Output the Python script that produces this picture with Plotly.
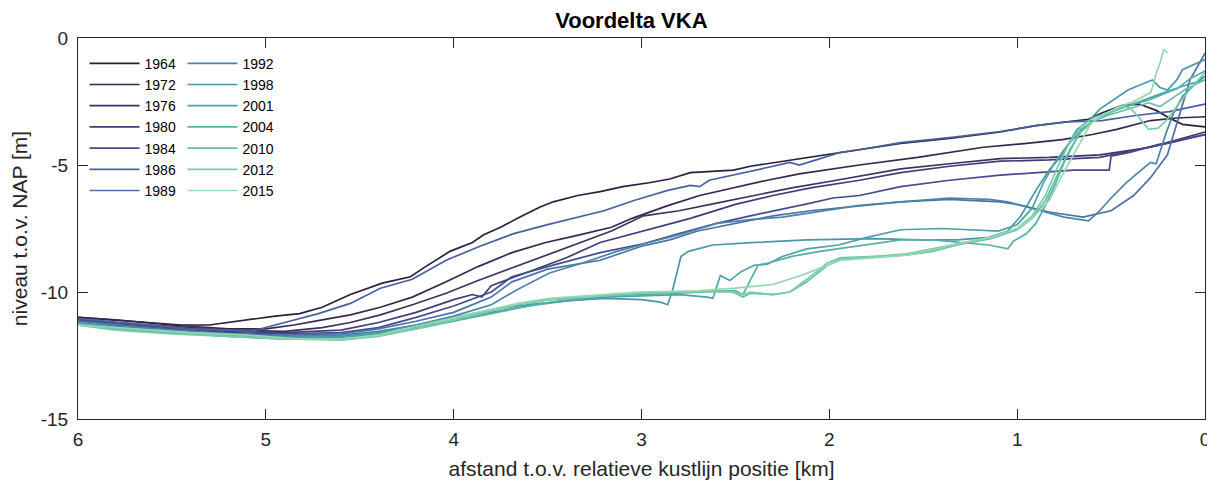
import plotly.graph_objects as go

# ---- data (x: km from relative coastline position, y: level w.r.t. NAP in m) ----
YEARS = ["1964", "1972", "1976", "1980", "1984", "1986", "1989",
         "1992", "1998", "2001", "2004", "2010", "2012", "2015"]

P1964 = [(6.0,-11.0),(5.9,-11.05),(5.75,-11.15),(5.6,-11.2),(5.45,-11.3),(5.3,-11.3),(5.2,-11.2),
         (5.05,-11.05),(4.95,-10.95),(4.82,-10.85),(4.7,-10.6),(4.55,-10.1),(4.45,-9.85),(4.38,-9.65),
         (4.23,-9.4),(4.16,-9.05),(4.02,-8.4),(3.9,-8.05),(3.84,-7.75),(3.75,-7.45),(3.66,-7.1),
         (3.54,-6.65),(3.47,-6.45),(3.34,-6.2),(3.22,-6.05),(3.1,-5.85),(2.96,-5.7),(2.85,-5.55),
         (2.74,-5.3),(2.6,-5.25),(2.51,-5.2),(2.42,-5.05),(2.33,-4.95),(2.16,-4.75),(1.98,-4.55),
         (1.84,-4.4),(1.62,-4.15),(1.36,-3.95),(1.09,-3.7),(0.9,-3.45),(0.74,-3.3),(0.62,-3.2),
         (0.55,-2.95),(0.44,-2.65),(0.35,-2.6),(0.26,-2.85),(0.19,-3.15),(0.12,-3.4),(0.0,-3.5)]

P1972 = [(6.0,-11.0),(5.8,-11.1),(5.5,-11.3),(5.2,-11.45),(5.0,-11.45),(4.85,-11.3),(4.7,-11.1),
         (4.55,-10.9),(4.39,-10.6),(4.22,-10.2),(4.04,-9.6),(3.87,-9.0),(3.69,-8.45),(3.51,-8.05),
         (3.33,-7.75),(3.16,-7.45),(3.05,-7.1),(2.86,-6.6),(2.69,-6.2),(2.51,-5.9),(2.33,-5.6),
         (2.16,-5.35),(1.98,-5.15),(1.84,-5.0),(1.53,-4.7),(1.18,-4.3),(0.95,-4.15),(0.76,-4.0),
         (0.6,-3.8),(0.47,-3.6),(0.29,-3.25),(0.15,-3.15),(0.0,-3.1)]

P1976 = [(6.0,-11.05),(5.8,-11.2),(5.5,-11.35),(5.2,-11.5),(4.9,-11.55),(4.7,-11.4),(4.55,-11.2),
         (4.39,-10.9),(4.22,-10.5),(4.04,-10.05),(3.87,-9.55),(3.69,-9.05),(3.51,-8.55),(3.33,-8.05),
         (3.16,-7.6),(2.99,-7.0),(2.8,-6.8),(2.6,-6.5),(2.4,-6.2),(2.2,-5.9),(2.0,-5.65),(1.84,-5.45),
         (1.62,-5.15),(1.36,-4.95),(1.09,-4.75),(0.83,-4.7),(0.56,-4.6),(0.47,-4.5),(0.29,-4.3),(0.0,-3.7)]

P1980 = [(6.0,-11.1),(5.8,-11.25),(5.5,-11.4),(5.2,-11.55),(4.9,-11.6),(4.6,-11.5),(4.4,-11.2),
         (4.2,-10.8),(4.0,-10.3),(3.9,-10.1),(3.85,-10.2),(3.8,-9.75),(3.6,-9.2),(3.4,-8.65),
         (3.22,-8.05),(2.99,-7.6),(2.85,-7.3),(2.74,-7.1),(2.5,-6.55),(2.3,-6.2),(2.1,-5.9),
         (1.84,-5.6),(1.62,-5.3),(1.36,-5.05),(1.09,-4.85),(0.83,-4.8),(0.56,-4.7),(0.4,-4.45),
         (0.2,-4.15),(0.0,-3.8)]

P1984 = [(6.0,-11.1),(5.8,-11.3),(5.5,-11.45),(5.2,-11.6),(4.9,-11.65),(4.6,-11.6),(4.4,-11.4),
         (4.2,-11.0),(4.0,-10.55),(3.8,-10.0),(3.69,-9.4),(3.5,-9.0),(3.22,-8.45),(2.99,-8.1),
         (2.8,-7.7),(2.6,-7.3),(2.42,-7.0),(2.25,-6.75),(2.1,-6.5),(1.98,-6.3),(1.84,-6.2),
         (1.62,-5.85),(1.36,-5.6),(1.09,-5.4),(0.83,-5.25),(0.7,-5.2),(0.51,-5.2),(0.5,-4.65),
         (0.4,-4.5),(0.25,-4.2),(0.0,-3.8)]

P1986 = [(6.0,-11.05),(5.85,-11.15),(5.6,-11.3),(5.4,-11.45),(5.2,-11.5),(5.08,-11.55),(4.9,-11.2),
         (4.72,-10.85),(4.55,-10.45),(4.39,-9.85),(4.22,-9.5),(4.04,-8.75),(3.86,-8.2),(3.68,-7.7),
         (3.5,-7.35),(3.33,-7.05),(3.2,-6.8),(3.04,-6.4),(2.86,-6.0),(2.74,-5.8),(2.69,-5.85),
         (2.64,-5.6),(2.51,-5.4),(2.33,-5.1),(2.21,-4.9),(2.16,-5.0),(2.07,-4.8),(1.94,-4.5),
         (1.84,-4.4),(1.62,-4.12),(1.36,-3.92),(1.09,-3.68),(0.9,-3.45),(0.74,-3.3),(0.55,-3.25),
         (0.37,-3.05),(0.19,-2.9),(0.0,-2.6)]

P1989 = [(6.0,-11.15),(5.8,-11.3),(5.5,-11.5),(5.2,-11.65),(4.9,-11.7),(4.6,-11.65),(4.4,-11.45),
         (4.2,-11.15),(4.0,-10.8),(3.8,-10.2),(3.69,-9.6),(3.5,-9.1),(3.22,-8.75),(3.0,-8.2),
         (2.85,-7.95),(2.7,-7.6),(2.5,-7.3),(2.3,-7.0),(2.1,-6.8),(1.9,-6.65),(1.62,-6.45),
         (1.36,-6.35),(1.09,-6.45),(1.0,-6.55),(0.83,-6.85),(0.65,-7.05),(0.5,-6.8),(0.38,-6.2),
         (0.29,-5.5),(0.2,-4.6),(0.15,-3.4),(0.12,-2.7),(0.08,-1.65),(0.0,-0.6)]

P1992 = [(6.0,-11.2),(5.8,-11.35),(5.5,-11.5),(5.2,-11.65),(4.9,-11.75),(4.6,-11.7),(4.4,-11.55),
         (4.2,-11.3),(4.0,-10.95),(3.8,-10.5),(3.66,-9.9),(3.49,-9.25),(3.31,-8.85),(3.13,-8.4),
         (2.96,-8.05),(2.78,-7.7),(2.6,-7.3),(2.42,-7.15),(2.25,-7.05),(2.07,-6.85),(1.85,-6.6),
         (1.62,-6.45),(1.36,-6.3),(1.15,-6.35),(1.05,-6.45),(0.9,-6.75),(0.75,-7.05),(0.62,-7.2),
         (0.56,-6.8),(0.5,-6.3),(0.42,-5.7),(0.34,-5.2),(0.29,-4.9),(0.26,-4.95),(0.21,-3.8),
         (0.17,-3.0),(0.12,-2.3),(0.08,-2.0),(0.04,-1.7),(0.0,-1.5)]

P1998 = [(6.0,-11.2),(5.8,-11.4),(5.5,-11.55),(5.2,-11.7),(4.9,-11.8),(4.6,-11.75),(4.4,-11.6),
         (4.2,-11.3),(4.0,-11.0),(3.8,-10.7),(3.6,-10.5),(3.4,-10.35),(3.2,-10.25),(3.0,-10.3),
         (2.9,-10.4),(2.86,-10.5),(2.83,-9.8),(2.79,-8.6),(2.75,-8.4),(2.62,-8.15),(2.39,-8.05),
         (2.12,-7.95),(1.77,-7.9),(1.5,-7.95),(1.32,-7.95),(1.15,-7.85),(1.05,-7.6),(0.98,-7.0),
         (0.9,-6.0),(0.83,-5.2),(0.76,-4.6),(0.73,-4.2),(0.68,-3.6),(0.61,-3.2),(0.56,-2.8),
         (0.5,-2.5),(0.41,-2.05),(0.33,-1.8),(0.28,-1.65),(0.24,-1.95),(0.2,-2.05),(0.15,-1.65),
         (0.12,-1.25),(0.0,-0.85)]

P2001 = [(6.0,-11.25),(5.8,-11.4),(5.5,-11.6),(5.2,-11.7),(4.9,-11.8),(4.6,-11.8),(4.4,-11.65),
         (4.2,-11.4),(4.0,-11.1),(3.8,-10.8),(3.6,-10.55),(3.4,-10.35),(3.2,-10.2),(3.0,-10.15),
         (2.8,-10.1),(2.65,-10.2),(2.62,-10.25),(2.58,-9.35),(2.53,-9.55),(2.47,-9.2),(2.4,-8.95),
         (2.33,-8.9),(2.25,-8.6),(2.12,-8.3),(1.95,-8.15),(1.8,-7.85),(1.62,-7.55),(1.4,-7.5),
         (1.2,-7.55),(1.1,-7.6),(1.0,-7.35),(0.92,-6.7),(0.86,-5.7),(0.8,-4.9),(0.74,-4.3),
         (0.68,-3.8),(0.6,-3.3),(0.5,-2.9),(0.42,-2.7),(0.35,-2.5),(0.28,-2.3),(0.2,-2.1),
         (0.1,-1.85),(0.0,-1.65)]

P2004 = [(6.0,-11.25),(5.8,-11.45),(5.5,-11.6),(5.2,-11.75),(4.9,-11.85),(4.6,-11.85),(4.4,-11.7),
         (4.2,-11.45),(4.0,-11.15),(3.8,-10.85),(3.6,-10.55),(3.4,-10.3),(3.2,-10.15),(3.0,-10.1),
         (2.8,-10.05),(2.6,-10.0),(2.5,-9.95),(2.46,-10.1),(2.42,-9.5),(2.38,-8.95),(2.32,-8.85),
         (2.2,-8.6),(2.05,-8.4),(1.9,-8.25),(1.75,-8.1),(1.62,-7.95),(1.45,-7.95),(1.3,-8.05),
         (1.15,-8.15),(1.05,-8.3),(1.02,-8.0),(0.95,-7.7),(0.9,-7.3),(0.85,-6.6),(0.8,-5.8),
         (0.75,-4.9),(0.7,-4.2),(0.66,-3.6),(0.6,-3.3),(0.52,-3.0),(0.45,-2.75),(0.38,-2.6),
         (0.3,-2.45),(0.22,-2.2),(0.15,-2.0),(0.08,-1.6),(0.0,-1.3)]

P2010 = [(6.0,-11.3),(5.8,-11.45),(5.5,-11.6),(5.2,-11.75),(4.9,-11.85),(4.6,-11.85),(4.4,-11.7),
         (4.2,-11.4),(4.0,-11.1),(3.84,-10.8),(3.66,-10.5),(3.49,-10.3),(3.22,-10.15),(3.0,-10.05),
         (2.75,-10.0),(2.55,-9.95),(2.5,-10.05),(2.46,-10.2),(2.42,-10.05),(2.3,-10.1),(2.21,-10.0),
         (2.12,-9.6),(2.01,-8.95),(1.94,-8.7),(1.75,-8.6),(1.59,-8.55),(1.45,-8.4),(1.32,-8.15),
         (1.14,-7.9),(1.0,-7.55),(0.92,-7.1),(0.85,-6.4),(0.78,-5.3),(0.72,-4.4),(0.66,-3.7),
         (0.6,-3.3),(0.52,-3.05),(0.45,-2.9),(0.38,-2.75),(0.3,-2.55),(0.24,-2.7),(0.18,-2.4),
         (0.1,-2.0),(0.0,-1.65)]

P2012 = [(6.0,-11.3),(5.8,-11.5),(5.5,-11.65),(5.2,-11.75),(4.9,-11.85),(4.6,-11.9),(4.4,-11.75),
         (4.2,-11.45),(4.0,-11.1),(3.84,-10.8),(3.66,-10.5),(3.49,-10.3),(3.22,-10.15),(3.0,-10.05),
         (2.75,-10.0),(2.5,-10.0),(2.46,-10.1),(2.42,-10.0),(2.3,-10.1),(2.21,-10.0),(2.12,-9.5),
         (2.01,-8.85),(1.94,-8.65),(1.75,-8.6),(1.59,-8.5),(1.45,-8.3),(1.32,-8.1),(1.14,-7.85),
         (1.0,-7.5),(0.92,-7.0),(0.85,-6.2),(0.78,-5.0),(0.72,-4.1),(0.65,-3.4),(0.58,-3.1),
         (0.5,-2.9),(0.44,-2.7),(0.4,-2.75),(0.36,-3.05),(0.3,-3.6),(0.25,-3.55),(0.2,-3.2),
         (0.15,-2.7),(0.1,-2.2),(0.0,-1.35)]

P2015 = [(6.0,-11.3),(5.7,-11.45),(5.4,-11.6),(5.1,-11.7),(4.82,-11.85),(4.6,-11.85),(4.4,-11.7),
         (4.2,-11.35),(4.02,-11.05),(3.84,-10.75),(3.66,-10.45),(3.49,-10.25),(3.22,-10.1),
         (3.01,-10.0),(2.7,-9.95),(2.5,-9.85),(2.3,-9.7),(2.15,-9.35),(2.03,-9.0),(1.94,-8.75),
         (1.75,-8.65),(1.59,-8.55),(1.45,-8.35),(1.32,-8.1),(1.14,-7.85),(1.0,-7.5),(0.92,-7.1),
         (0.83,-6.4),(0.76,-5.4),(0.7,-4.6),(0.65,-3.9),(0.61,-3.4),(0.56,-3.1),(0.47,-2.75),
         (0.38,-2.5),(0.33,-2.3),(0.29,-2.15),(0.28,-1.95),(0.26,-1.4),(0.24,-1.0),(0.22,-0.45),
         (0.2,-0.6)]

SERIES = [P1964, P1972, P1976, P1980, P1984, P1986, P1989,
          P1992, P1998, P2001, P2004, P2010, P2012, P2015]

COLORS = ["#2d1e3e", "#35274f", "#3d3163", "#413c78", "#444b8c", "#4960a0", "#4a72a8",
          "#4a84aa", "#4a95ab", "#4ba3a9", "#55b0a6", "#66bea8", "#7bcbab", "#92d9b2"]

FONT = "Arial, Liberation Sans, Helvetica, sans-serif"
AX = "#262626"

# the page body adds an 8 px offset; the figure is sized to fit the window from there
FIG_W, FIG_H = 1207, 476

fig = go.Figure()
for i, (yr, pts, col) in enumerate(zip(YEARS, SERIES, COLORS)):
    fig.add_trace(go.Scatter(
        x=[p[0] for p in pts], y=[p[1] for p in pts],
        mode="lines", name=yr,
        line=dict(color=col, width=1.7),
        legend="legend" if i < 7 else "legend2",
    ))

leg_common = dict(
    bgcolor="rgba(0,0,0,0)", borderwidth=0,
    font=dict(family=FONT, size=14, color="#000000"),
    xanchor="left", yanchor="top", itemwidth=50, tracegroupgap=0,
    traceorder="normal",
)

fig.update_layout(
    width=FIG_W, height=FIG_H,
    margin=dict(l=70, r=10, t=30, b=65),
    paper_bgcolor="white", plot_bgcolor="white",
    title=dict(text="<b>Voordelta VKA</b>", x=0.491, xref="paper", y=1 - 12 / FIG_H,
               yanchor="middle", font=dict(family=FONT, size=22, color="#000000")),
    showlegend=True,
    legend=dict(x=0.0058, y=0.9745, **leg_common),
    legend2=dict(x=0.0927, y=0.9745, **leg_common),
    font=dict(family=FONT, color=AX),
)

fig.update_xaxes(
    range=[6, 0], tickvals=[6, 5, 4, 3, 2, 1, 0], ticktext=["6", "5", "4", "3", "2", "1", "0"],
    showgrid=False, zeroline=False, showline=True, linecolor=AX, linewidth=1, mirror="ticks",
    ticks="inside", ticklen=10, tickcolor=AX, tickwidth=1, automargin=False,
    tickfont=dict(family=FONT, size=19, color=AX), ticklabelstandoff=3,
    title=dict(text="afstand t.o.v. relatieve kustlijn positie [km]",
               font=dict(family=FONT, size=21, color=AX), standoff=12),
)
fig.update_yaxes(
    range=[-15, 0], tickvals=[-15, -10, -5, 0], ticktext=["-15", "-10", "-5", "0"],
    showgrid=False, zeroline=False, showline=True, linecolor=AX, linewidth=1, mirror="ticks",
    ticks="inside", ticklen=10, tickcolor=AX, tickwidth=1, automargin=False,
    tickfont=dict(family=FONT, size=19, color=AX), ticklabelstandoff=5,
    title=dict(text="niveau t.o.v. NAP [m]", font=dict(family=FONT, size=21, color=AX), standoff=14),
)

fig.write_html("out.html")
